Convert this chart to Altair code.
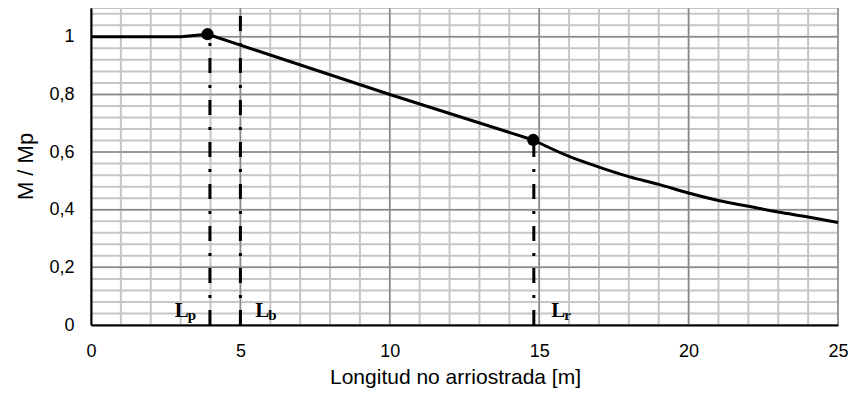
import altair as alt
import pandas as pd

# ---- data ----
# inelastic part (straight segments)
curve1_x = [0, 3.0, 3.9, 5, 10, 14.8]
curve1_y = [1.0, 1.0, 1.009, 0.971, 0.8, 0.642]
# elastic part (smooth curve)
curve2_x = [14.8, 16, 17, 18, 19, 20, 21, 22, 23, 24, 25]
curve2_y = [0.642, 0.585, 0.548, 0.515, 0.488, 0.458, 0.432, 0.412, 0.392,
            0.375, 0.356]

point_x = [3.9, 14.8]
point_y = [1.009, 0.642]

vline_x = [3.98, 5.0, 14.82]
vline_top = [1.0, 1.1, 0.64]

label_main = ["L", "L", "L"]
label_sub = ["p", "b", "r"]
label_x = [2.8, 5.5, 15.4]
label_y = [0.028, 0.028, 0.028]

x_ticks = [0, 5, 10, 15, 20, 25]
y_ticks = [0, 0.2, 0.4, 0.6, 0.8, 1.0]
minor_x = list(range(0, 26))
minor_y = [round(0.04 * i, 2) for i in range(28)] + [1.1]

# ---- tables ----
df_c1 = pd.DataFrame({"x": curve1_x, "y": curve1_y})
df_c2 = pd.DataFrame({"x": curve2_x, "y": curve2_y})
df_pts = pd.DataFrame({"x": point_x, "y": point_y})
df_vl = pd.DataFrame({"x": vline_x, "y0": [0] * len(vline_x), "y1": vline_top})
df_lab = pd.DataFrame({"x": label_x, "y": label_y, "main": label_main, "sub": label_sub})
df_minx = pd.DataFrame({"x": minor_x})
df_miny = pd.DataFrame({"y": minor_y})
df_majx = pd.DataFrame({"x": x_ticks})
df_majy = pd.DataFrame({"y": y_ticks})

FONT = "Liberation Sans"
W = 747
xs = alt.Scale(domain=[0, 25], nice=False, zero=False)
ys = alt.Scale(domain=[0, 1.1], nice=False, zero=False)

xaxis = alt.Axis(values=x_ticks, title="Longitud no arriostrada [m]", grid=False,
                 ticks=False, domainColor="black", domainWidth=2,
                 labelFont=FONT, labelFontSize=18, labelColor="black",
                 labelPadding=17, labelFlush=False, format="d",
                 titleFont=FONT, titleFontSize=21, titleFontWeight="normal",
                 titleColor="black", titleX=364, titleY=52,
                 titleBaseline="middle", titleAlign="center", zindex=1)
yaxis = alt.Axis(values=y_ticks, title="M / Mp", grid=False, ticks=False,
                 domainColor="black", domainWidth=2,
                 labelFont=FONT, labelFontSize=18, labelColor="black",
                 labelPadding=17,
                 labelExpr="replace(format(datum.value, '~g'), '.', ',')",
                 titleFont=FONT, titleFontSize=22, titleFontWeight="normal",
                 titleColor="black", titleX=-66, titleY=158, titleAngle=270,
                 titleAlign="center", titleBaseline="middle", zindex=1)


def X(field="x"):
    return alt.X(f"{field}:Q", scale=xs, axis=xaxis)


def Y(field="y"):
    return alt.Y(f"{field}:Q", scale=ys, axis=yaxis)


minor_v = alt.Chart(df_minx).mark_rule(color="#c6c6c6", strokeWidth=2).encode(x=X())
minor_h = alt.Chart(df_miny).mark_rule(color="#c6c6c6", strokeWidth=2).encode(y=Y())
major_v = alt.Chart(df_majx).mark_rule(color="#8a8a8a", strokeWidth=1.5).encode(x=X())
major_h = alt.Chart(df_majy).mark_rule(color="#8a8a8a", strokeWidth=1.5).encode(y=Y())

vlines = alt.Chart(df_vl).mark_rule(color="black", strokeWidth=3,
                                     strokeDash=[15, 12, 3, 12]).encode(
    x=X(), y=Y("y0"), y2="y1:Q")

line1 = alt.Chart(df_c1).mark_line(color="black", strokeWidth=3,
                                   strokeJoin="round").encode(x=X(), y=Y())
line2 = alt.Chart(df_c2).mark_line(color="black", strokeWidth=3,
                                   interpolate="monotone").encode(x=X(), y=Y())
pts = alt.Chart(df_pts).mark_circle(color="black", size=150, opacity=1).encode(x=X(), y=Y())

lab_main = alt.Chart(df_lab).mark_text(font="Liberation Serif", fontWeight="bold",
                                       fontSize=21, align="left",
                                       baseline="alphabetic", color="black").encode(
    x=X(), y=Y(), text="main:N")
lab_sub = alt.Chart(df_lab).mark_text(font="Liberation Serif", fontWeight="bold",
                                      fontSize=15, align="left", dx=13, dy=3,
                                      baseline="alphabetic", color="black").encode(
    x=X(), y=Y(), text="sub:N")

chart = alt.layer(minor_v, minor_h, major_v, major_h, line1, line2, vlines, pts,
                  lab_main, lab_sub).properties(
    width=W, height=317,
    autosize=alt.AutoSizeParams(type="none"),
    padding={"left": 83, "top": 0, "right": 840 - 83 - W, "bottom": 67},
).configure_view(stroke=None)

chart.save("out.html", embed_options={"renderer": "svg", "actions": False})
